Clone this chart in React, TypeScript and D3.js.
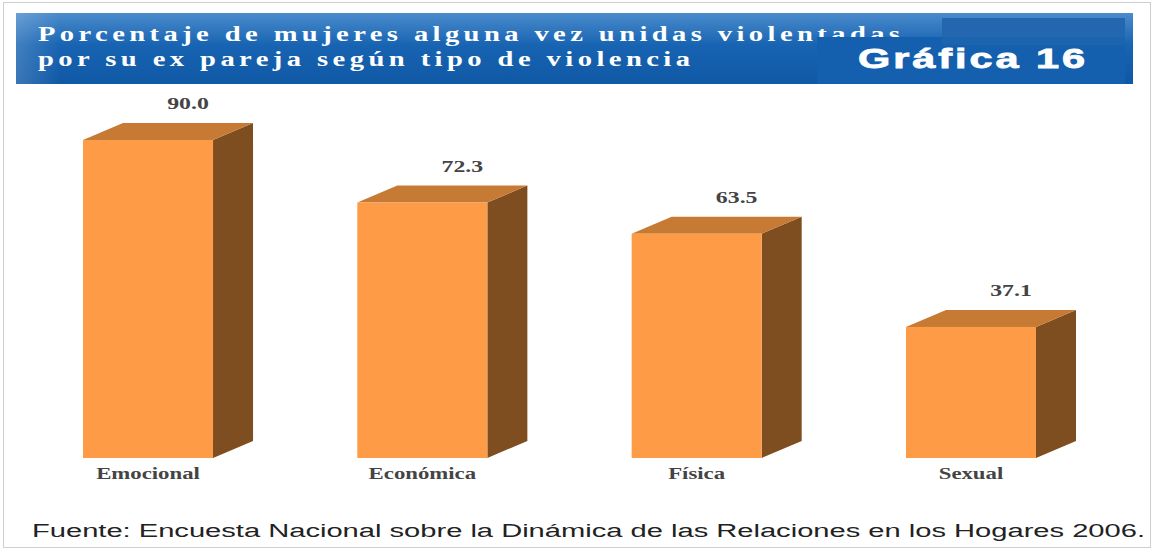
import React from 'react';
import * as d3 from 'd3';

const categories = ['Emocional', 'Económica', 'Física', 'Sexual'];
const values = [90.0, 72.3, 63.5, 37.1];
const valueLabels = ['90.0', '72.3', '63.5', '37.1'];

const titleLines = [
    'Porcentaje de mujeres alguna vez unidas violentadas',
    'por su ex pareja según tipo de violencia',
];
const badge = 'Gráfica 16';
const source = 'Fuente: Encuesta Nacional sobre la Dinámica de las Relaciones en los Hogares 2006.';

const width = 1155;
const height = 550;

export default function App() {
    const baseY = 458;
    const topY = 140;
    const depthX = 40;
    const depthY = 17;

    const x = d3.scaleBand()
        .domain(categories)
        .range([83, 1036])
        .paddingInner(0.526)
        .paddingOuter(0);

    const y = d3.scaleLinear().domain([0, 90]).range([baseY, topY]);

    const bw = x.bandwidth();
    const serif = '"Liberation Serif", "DejaVu Serif", serif';
    const sans = '"Liberation Sans", Arial, sans-serif';
    const titleScale = 1.3;

    return (
        <svg width={width} height={height} style={{position: 'absolute', left: 0, top: 0, background: '#fff'}}>
            <defs>
                <linearGradient id="hdr" x1="0" y1="0" x2="0" y2="1">
                    <stop offset="0" stopColor="#4a8bcc"/>
                    <stop offset="0.45" stopColor="#1864b2"/>
                    <stop offset="1" stopColor="#0f58a5"/>
                </linearGradient>
                <linearGradient id="hdrSide" x1="0" y1="0" x2="1" y2="0">
                    <stop offset="0" stopColor="#ffffff" stopOpacity="0.18"/>
                    <stop offset="0.04" stopColor="#ffffff" stopOpacity="0"/>
                </linearGradient>
            </defs>

            <rect x={3.5} y={2.5} width={1147} height={545} fill="#fff" stroke="#cfcfcf"/>

            {/* header */}
            <rect x={16} y={13} width={1117} height={71} fill="url(#hdr)"/>
            <rect x={16} y={13} width={1117} height={71} fill="url(#hdrSide)"/>
            {titleLines.map((t, i) => (
                <text key={i} transform={`translate(38,${i === 0 ? 41 : 66}) scale(${titleScale},1)`}
                      textLength={(i === 0 ? 862 : 652) / titleScale} lengthAdjust="spacing"
                      fontFamily={serif} fontWeight="bold" fontSize={22} fill="#fff">{t}</text>
            ))}
            <rect x={942} y={18} width={183} height={27} fill="#2367b0"/>
            <rect x={817} y={37} width={308} height={47} fill="#1560ae"/>
            <rect x={942} y={37} width={183} height={8} fill="#1d64af"/>
            <text x={858} y={68} textLength={230} lengthAdjust="spacingAndGlyphs"
                  fontFamily={sans} fontWeight="900" fontSize={28} fill="#fff"
                  stroke="#fff" strokeWidth={0.8} letterSpacing={2}>{badge}</text>

            {/* bars */}
            <g>
                {categories.map((c, i) => {
                    const x0 = x(c) as number;
                    const x1 = x0 + bw;
                    const yt = y(values[i]);
                    const top = `M${x0},${yt} L${x0 + depthX},${yt - depthY} L${x1 + depthX},${yt - depthY} L${x1},${yt} Z`;
                    const side = `M${x1},${yt} L${x1 + depthX},${yt - depthY} L${x1 + depthX},${baseY - depthY} L${x1},${baseY} Z`;
                    return (
                        <g key={c}>
                            <path d={side} fill="#7e4d20"/>
                            <path d={top} fill="#c77a34"/>
                            <rect x={x0} y={yt} width={bw} height={baseY - yt} fill="#fe9b46"/>
                            <text transform={`translate(${x0 + bw / 2 + depthX},${yt - depthY - 14}) scale(1.4,1)`}
                                  textAnchor="middle" fontFamily={serif} fontWeight="bold" fontSize={17}
                                  fill="#444">{valueLabels[i]}</text>
                            <text transform={`translate(${x0 + bw / 2},${baseY + 21}) scale(1.34,1)`}
                                  textAnchor="middle" fontFamily={serif} fontWeight="bold" fontSize={17}
                                  fill="#444">{c}</text>
                        </g>
                    );
                })}
            </g>

            <text x={32} y={537} textLength={1113} lengthAdjust="spacingAndGlyphs"
                  fontFamily={sans} fontSize={18} fill="#222">{source}</text>
        </svg>
    );
}
